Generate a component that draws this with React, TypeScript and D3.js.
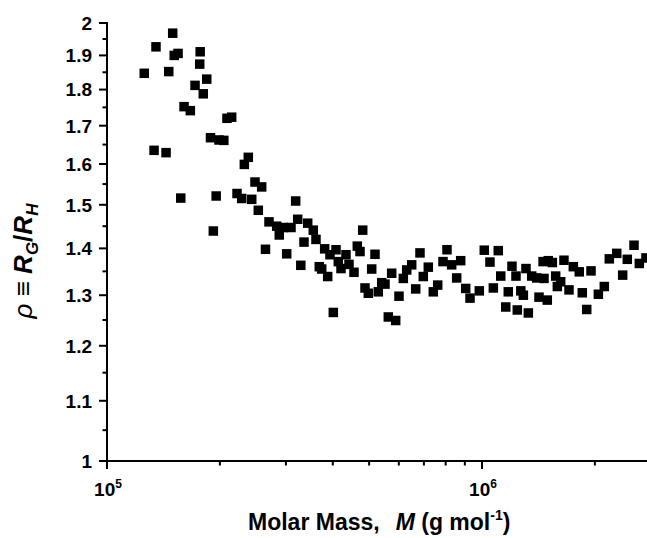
import React from 'react';
import * as d3 from 'd3';

const molarMass = [
  125700, 133500, 135100, 143700, 146100, 149700, 151100, 154700, 157300, 160500,
  166800, 171700, 176700, 177200, 180600, 184500, 188800, 192100, 195500, 198900,
  204900, 208900, 215000, 222200, 228700, 232400, 238100, 243200, 248100, 258500,
  253200, 264600, 270400, 283500, 288000, 295200, 301400, 309500, 318500, 322500,
  328700, 335200, 342900, 354900, 360800, 368200, 373700, 380600, 387700, 393200,
  401300, 408000, 413800, 420700, 433800, 441900, 455700, 465000, 472800, 480700,
  487500, 497500, 508000, 518400, 529000, 540200, 551200, 562500, 574300, 588600,
  600700, 616800, 629800, 649400, 665600, 683300, 697300, 719100, 741500, 761800,
  787000, 806500, 830100, 856000, 877300, 904700, 929000, 983500, 1014000, 1050000,
  1072000, 1105000, 1122000, 1157000, 1175000, 1202000, 1232000, 1242000, 1269000, 1289000,
  1310000, 1329000, 1357000, 1399000, 1419000, 1455000, 1463000, 1493000, 1502000, 1540000,
  1572000, 1588000, 1621000, 1654000, 1706000, 1752000, 1817000, 1851000, 1902000, 1953000,
  2043000, 2119000, 2185000, 2287000, 2372000, 2440000, 2543000, 2627000, 2737000,
];

const rho = [
  1.847, 1.635, 1.926, 1.629, 1.852, 1.968, 1.9, 1.906, 1.516, 1.752,
  1.741, 1.812, 1.874, 1.911, 1.788, 1.83, 1.668, 1.439, 1.521, 1.662,
  1.661, 1.72, 1.723, 1.527, 1.515, 1.599, 1.617, 1.513, 1.555, 1.543,
  1.487, 1.398, 1.46, 1.45, 1.43, 1.447, 1.388, 1.447, 1.509, 1.466,
  1.363, 1.414, 1.457, 1.441, 1.42, 1.36, 1.355, 1.399, 1.339, 1.386,
  1.265, 1.397, 1.371, 1.356, 1.386, 1.365, 1.348, 1.405, 1.393, 1.441,
  1.315, 1.304, 1.355, 1.387, 1.307, 1.326, 1.323, 1.256, 1.346, 1.249,
  1.298, 1.335, 1.353, 1.364, 1.313, 1.39, 1.339, 1.359, 1.307, 1.321,
  1.371, 1.397, 1.364, 1.336, 1.373, 1.314, 1.294, 1.309, 1.396, 1.37,
  1.315, 1.395, 1.34, 1.276, 1.307, 1.361, 1.34, 1.27, 1.309, 1.3,
  1.356, 1.264, 1.34, 1.336, 1.296, 1.371, 1.335, 1.29, 1.373, 1.369,
  1.34, 1.318, 1.328, 1.374, 1.311, 1.36, 1.349, 1.305, 1.271, 1.351,
  1.302, 1.318, 1.377, 1.389, 1.342, 1.376, 1.407, 1.367, 1.379,
];

const yMajorTicks = [1, 1.1, 1.2, 1.3, 1.4, 1.5, 1.6, 1.7, 1.8, 1.9, 2];
const yMinorTicks = [1.05, 1.15, 1.25, 1.35, 1.45, 1.55, 1.65, 1.75, 1.85, 1.95];
const xMajorTicks = [1e5, 1e6];
const xMajorExp = ['5', '6'];
const xMinorTicks = [2e5, 3e5, 4e5, 5e5, 6e5, 7e5, 8e5, 9e5, 2e6];
const xDomain = [1e5, 2.754e6];
const yDomain = [1, 2];

const W = 647;
const H = 538;
const FONT = '"Liberation Sans", Arial, Helvetica, sans-serif';

export default function App() {
  const x = d3.scaleLog().domain(xDomain).range([107, 647]);
  const y = d3.scaleLog().domain(yDomain).range([461, 23]);
  const ms = 9.5;
  const x0 = x(xDomain[0]);
  const y0 = y(yDomain[0]);

  return (
    <div style={{ position: 'absolute', left: 0, top: 0, width: W, height: H, overflow: 'hidden' }}>
      <svg width={W} height={H} style={{ display: 'block', background: '#fff' }} fontFamily={FONT}>
        <rect x={0} y={0} width={W} height={H} fill="#fff" />
        {/* points */}
        <g fill="#000">
          {molarMass.map((m, i) => (
            <rect key={i} x={x(m) - ms / 2} y={y(rho[i]) - ms / 2} width={ms} height={ms} />
          ))}
        </g>
        {/* axes */}
        <g stroke="#000" strokeWidth={2} fill="none">
          <line x1={x0} y1={y(yDomain[1]) - 1} x2={x0} y2={y0 + 1} />
          <line x1={x0 - 1} y1={y0} x2={W} y2={y0} />
          {yMajorTicks.map((t) => (
            <line key={'ym' + t} x1={x0 - 8} x2={x0} y1={y(t)} y2={y(t)} />
          ))}
          {yMinorTicks.map((t) => (
            <line key={'yn' + t} x1={x0 - 4.5} x2={x0} y1={y(t)} y2={y(t)} />
          ))}
          {xMajorTicks.map((t) => (
            <line key={'xm' + t} x1={x(t)} x2={x(t)} y1={y0} y2={y0 + 8} />
          ))}
          {xMinorTicks.map((t) => (
            <line key={'xn' + t} x1={x(t)} x2={x(t)} y1={y0} y2={y0 + 4.5} />
          ))}
        </g>
        {/* y tick labels */}
        <g fontSize={19} fontWeight="bold" textAnchor="end" fill="#000">
          {yMajorTicks.map((t) => (
            <text key={'yl' + t} x={92} y={y(t)} dy="0.36em">
              {d3.format('~g')(t)}
            </text>
          ))}
        </g>
        {/* x tick labels */}
        <g fontSize={19} fontWeight="bold" textAnchor="middle" fill="#000">
          {xMajorTicks.map((t, i) => (
            <text key={'xl' + t} x={x(t) + 1} y={496}>
              10
              <tspan fontSize={12} dy={-8}>{xMajorExp[i]}</tspan>
            </text>
          ))}
        </g>
        {/* x title */}
        <text x={248} y={530} fontSize={23} fontWeight="bold" fill="#000">
          Molar Mass,
          <tspan dx={16} fontStyle="italic">M</tspan>
          <tspan> (g mol</tspan>
          <tspan fontSize={14} dy={-10}>-1</tspan>
          <tspan dy={10}>)</tspan>
        </text>
        {/* y title */}
        <text
          transform={`translate(32, 261) rotate(-90)`}
          textAnchor="middle"
          fontSize={26}
          fontWeight="bold"
          fill="#000"
        >
          <tspan fontStyle="italic" fontWeight="normal">ρ</tspan>
          <tspan fontWeight="normal"> ≡ </tspan>
          <tspan fontStyle="italic">R</tspan>
          <tspan fontStyle="italic" fontSize={17} dy={6}>G</tspan>
          <tspan dy={-6}>/</tspan>
          <tspan fontStyle="italic">R</tspan>
          <tspan fontStyle="italic" fontSize={17} dy={6}>H</tspan>
        </text>
      </svg>
    </div>
  );
}
